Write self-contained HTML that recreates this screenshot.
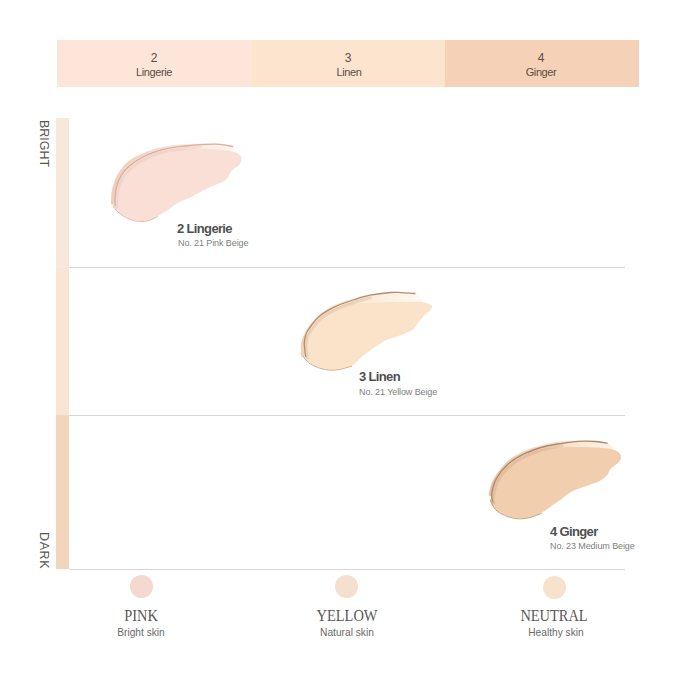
<!DOCTYPE html>
<html>
<head>
<meta charset="utf-8">
<style>
html,body{margin:0;padding:0;background:#fff;}
body{width:679px;height:679px;position:relative;overflow:hidden;font-family:"Liberation Sans",sans-serif;}
.a{position:absolute;}
.seg{position:absolute;top:40px;height:47px;}
.t{position:absolute;white-space:nowrap;line-height:1;}
.num{font-size:12px;color:#5e4d45;text-align:center;width:100px;}
.nm{font-size:11px;color:#5e4d45;text-align:center;width:100px;letter-spacing:-0.4px;}
.lab{font-size:13px;font-weight:bold;color:#505050;letter-spacing:-0.65px;}
.sub{font-size:9px;color:#808080;letter-spacing:-0.1px;}
.hl{position:absolute;left:69px;width:556px;height:1px;background:#d6d6d6;}
.vt{position:absolute;font-size:12.5px;color:#555;transform-origin:0 0;transform:rotate(90deg);line-height:1;white-space:nowrap;}
.circ{position:absolute;width:23px;height:23px;border-radius:50%;}
.big{font-family:"Liberation Serif",serif;font-size:16px;color:#585858;text-align:center;width:120px;transform:scaleX(0.9);}
.sk{font-size:10.2px;color:#6a6a6a;text-align:center;width:120px;letter-spacing:0px;}
</style>
</head>
<body>
<!-- top bar -->
<div class="seg" style="left:57px;width:195px;background:#fde5da;"></div>
<div class="seg" style="left:252px;width:193px;background:#fde4cf;"></div>
<div class="seg" style="left:445px;width:194px;background:#f5d1b8;"></div>
<div class="t num" style="left:104px;top:52px;">2</div>
<div class="t nm" style="left:104px;top:67px;">Lingerie</div>
<div class="t num" style="left:298px;top:52px;">3</div>
<div class="t nm" style="left:299px;top:67px;">Linen</div>
<div class="t num" style="left:491px;top:52px;">4</div>
<div class="t nm" style="left:491px;top:67px;">Ginger</div>

<!-- left vertical bar -->
<div class="a" style="left:56px;top:118px;width:13px;height:150px;background:#f8e8da;"></div>
<div class="a" style="left:56px;top:268px;width:13px;height:147px;background:#f8e5d3;"></div>
<div class="a" style="left:56px;top:415px;width:13px;height:154px;background:#f2d6bb;"></div>
<div class="vt" style="left:50px;top:120px;">BRIGHT</div>
<div class="vt" style="left:50px;top:532px;letter-spacing:0.6px;">DARK</div>

<!-- horizontal lines -->
<div class="hl" style="top:267px;"></div>
<div class="hl" style="top:415px;"></div>
<div class="hl" style="top:569px;"></div>

<!-- swatches -->
<svg class="a" style="left:0;top:0" width="679" height="679" viewBox="0 0 679 679">
<defs><linearGradient id="bg0" gradientUnits="userSpaceOnUse" x1="111.1" y1="0" x2="233.5" y2="0"><stop offset="0" stop-color="#efcdbf"/><stop offset="0.5" stop-color="#f7e1d8"/><stop offset="1" stop-color="#fdf4f0"/></linearGradient></defs>
<path d="M111.1,204.0 C110.5,203.3 110.9,202.4 111.1,200.0 C111.2,197.6 111.3,192.9 112.0,189.5 C112.7,186.1 113.7,183.1 115.1,179.8 C116.5,176.6 118.2,173.1 120.4,170.0 C122.6,166.9 125.2,163.7 128.3,161.2 C131.4,158.7 134.9,156.9 138.9,155.0 C142.9,153.1 147.3,151.2 152.2,149.7 C157.0,148.2 162.5,146.9 168.0,146.0 C173.5,145.1 179.7,144.7 185.0,144.3 C190.3,143.9 195.1,143.8 200.0,143.6 C204.9,143.4 210.7,143.3 214.7,143.4 C218.7,143.5 220.9,143.5 224.0,144.0 C227.1,144.5 232.5,145.0 233.5,146.2 C234.5,147.4 232.9,150.5 229.8,151.0 C226.7,151.5 220.0,149.6 215.0,149.2 C210.0,148.8 205.0,148.6 200.0,148.5 C195.0,148.4 190.3,148.3 185.0,148.5 C179.7,148.7 172.8,148.8 168.0,149.5 C163.2,150.2 160.0,151.2 156.0,152.5 C152.0,153.8 148.2,155.2 144.0,157.5 C139.8,159.8 134.7,163.0 131.0,166.0 C127.3,169.0 124.3,172.2 122.0,175.5 C119.7,178.8 118.4,182.8 117.3,186.0 C116.2,189.2 116.0,192.0 115.5,195.0 C115.0,198.0 115.2,202.5 114.5,204.0 C113.8,205.5 111.7,204.7 111.1,204.0 Z" fill="url(#bg0)"/>
<path d="M114.5,204.0 C115.0,202.3 115.0,198.0 115.5,195.0 C116.0,192.0 116.2,189.2 117.3,186.0 C118.4,182.8 119.7,178.8 122.0,175.5 C124.3,172.2 127.3,169.0 131.0,166.0 C134.7,163.0 139.8,159.8 144.0,157.5 C148.2,155.2 152.0,153.8 156.0,152.5 C160.0,151.2 163.2,150.2 168.0,149.5 C172.8,148.8 179.7,148.7 185.0,148.5 C190.3,148.3 195.0,148.4 200.0,148.5 C205.0,148.6 210.0,148.8 215.0,149.2 C220.0,149.6 226.0,150.3 229.8,151.0 C233.6,151.7 236.1,152.4 238.0,153.5 C239.9,154.6 240.8,156.2 241.3,157.5 C241.8,158.8 241.5,160.1 241.0,161.5 C240.5,162.9 239.7,164.5 238.2,165.9 C236.7,167.3 233.8,168.4 232.2,169.9 C230.6,171.4 230.1,173.4 228.9,175.2 C227.7,177.0 226.8,179.1 225.0,180.5 C223.2,181.9 220.7,182.7 218.3,183.8 C215.9,184.9 213.5,185.7 210.4,187.1 C207.3,188.5 203.5,190.5 199.8,192.4 C196.1,194.3 191.6,196.8 188.0,198.5 C184.4,200.2 181.4,200.9 178.0,202.8 C174.6,204.7 171.2,207.9 167.8,210.1 C164.4,212.3 160.9,214.5 157.5,216.2 C154.1,217.9 150.6,219.7 147.2,220.4 C143.8,221.1 140.3,221.1 136.9,220.6 C133.5,220.1 129.9,218.9 126.6,217.3 C123.3,215.7 119.6,213.2 117.3,211.1 C115.0,209.0 113.1,206.1 112.6,204.9 C112.1,203.7 114.0,205.7 114.5,204.0 Z" fill="#f9dfd5"/>
<path d="M113.0,206.0 C113.7,206.9 115.0,209.5 117.3,211.5 C119.6,213.5 123.3,216.2 126.6,217.8 C129.9,219.4 133.5,220.6 136.9,221.1 C140.3,221.6 143.8,221.6 147.2,220.9 C150.6,220.2 155.8,217.4 157.5,216.7" fill="none" stroke="#e0b9ab" stroke-width="1"/>
<path d="M115.0,206.0 C115.0,204.2 114.9,198.3 115.2,195.0 C115.5,191.7 115.8,189.3 116.8,186.0 C117.8,182.7 119.1,178.7 121.3,175.3 C123.5,171.9 126.4,168.7 130.1,165.6 C133.8,162.5 139.2,159.1 143.3,156.8 C147.5,154.5 150.9,153.2 155.0,151.8 C159.1,150.4 163.0,149.3 168.0,148.3 C173.0,147.3 179.7,146.6 185.0,146.0 C190.3,145.4 197.5,144.8 200.0,144.6" transform="translate(1.6,2.2)" fill="none" stroke="#d9b0a2" stroke-opacity="0.22" stroke-width="3"/>
<path d="M115.0,206.0 C115.0,204.2 114.9,198.3 115.2,195.0 C115.5,191.7 115.8,189.3 116.8,186.0 C117.8,182.7 119.1,178.7 121.3,175.3 C123.5,171.9 126.4,168.7 130.1,165.6 C133.8,162.5 139.2,159.1 143.3,156.8 C147.5,154.5 150.9,153.2 155.0,151.8 C159.1,150.4 163.0,149.3 168.0,148.3 C173.0,147.3 179.7,146.6 185.0,146.0 C190.3,145.4 195.1,144.9 200.0,144.6 C204.9,144.3 210.7,144.2 214.7,144.2 C218.7,144.2 220.9,144.4 224.0,144.8 C227.1,145.2 231.5,146.4 233.0,146.7" fill="none" stroke="#d9b0a2" stroke-width="1.3"/>
<defs><linearGradient id="bg1" gradientUnits="userSpaceOnUse" x1="301" y1="0" x2="415.4" y2="0"><stop offset="0" stop-color="#efd3b6"/><stop offset="0.5" stop-color="#fae8d4"/><stop offset="1" stop-color="#fef7ee"/></linearGradient></defs>
<path d="M301.0,356.0 C300.4,355.2 301.0,353.3 301.0,351.2 C301.0,349.1 300.4,346.2 301.0,343.3 C301.6,340.4 302.7,337.3 304.3,334.0 C305.9,330.7 308.0,326.9 310.9,323.4 C313.8,319.9 317.5,315.9 321.5,312.8 C325.5,309.7 329.2,307.3 334.7,304.9 C340.2,302.5 348.7,299.9 354.6,298.2 C360.5,296.5 364.0,295.5 370.0,294.5 C376.0,293.5 385.5,292.4 390.6,292.0 C395.8,291.6 396.8,292.0 400.9,292.2 C405.0,292.4 412.0,291.6 415.4,293.2 C418.8,294.8 422.4,300.6 421.5,302.0 C420.6,303.4 415.2,301.8 410.0,301.8 C404.8,301.8 396.7,301.9 390.0,302.0 C383.3,302.1 376.7,302.4 370.0,302.5 C363.3,302.6 355.8,301.7 350.0,302.5 C344.2,303.3 340.6,305.2 335.5,307.5 C330.4,309.8 323.9,312.4 319.5,316.0 C315.1,319.6 311.3,325.7 309.0,329.0 C306.7,332.3 306.3,333.6 305.5,336.0 C304.7,338.4 304.2,340.0 304.0,343.3 C303.8,346.6 305.0,353.9 304.5,356.0 C304.0,358.1 301.6,356.8 301.0,356.0 Z" fill="url(#bg1)"/>
<path d="M304.5,356.0 C304.4,353.6 303.8,346.6 304.0,343.3 C304.2,340.0 304.7,338.4 305.5,336.0 C306.3,333.6 306.7,332.3 309.0,329.0 C311.3,325.7 315.1,319.6 319.5,316.0 C323.9,312.4 330.4,309.8 335.5,307.5 C340.6,305.2 344.2,303.3 350.0,302.5 C355.8,301.7 363.3,302.6 370.0,302.5 C376.7,302.4 383.3,302.1 390.0,302.0 C396.7,301.9 404.8,301.8 410.0,301.8 C415.2,301.8 418.5,301.7 421.5,302.0 C424.5,302.3 426.3,302.8 428.0,303.5 C429.7,304.2 431.4,305.0 431.9,306.0 C432.4,307.0 431.8,308.4 430.8,309.7 C429.8,311.0 427.5,312.1 425.7,313.9 C423.9,315.7 421.4,318.9 420.0,320.6 C418.6,322.3 418.6,322.6 417.4,324.1 C416.2,325.6 414.9,327.9 413.0,329.4 C411.1,330.9 408.5,331.8 405.9,333.0 C403.2,334.2 400.3,335.3 397.1,336.5 C393.9,337.7 389.7,338.5 386.5,340.0 C383.3,341.5 380.6,343.4 377.7,345.3 C374.8,347.2 371.6,349.5 368.8,351.5 C366.0,353.5 363.8,355.2 361.0,357.5 C358.2,359.8 355.7,363.6 352.0,365.5 C348.3,367.4 343.1,368.5 338.7,369.1 C334.3,369.7 329.9,369.9 325.5,369.1 C321.1,368.3 315.7,366.4 312.2,364.5 C308.7,362.6 305.6,359.2 304.3,357.8 C303.0,356.4 304.6,358.4 304.5,356.0 Z" fill="#fbe3c9"/>
<path d="M303.0,356.0 C303.5,356.7 304.5,358.5 306.0,360.0 C307.5,361.5 308.9,363.4 312.2,365.0 C315.4,366.6 321.1,368.8 325.5,369.6 C329.9,370.4 334.3,370.2 338.7,369.6 C343.1,369.0 349.8,366.6 352.0,366.0" fill="none" stroke="#cfae90" stroke-width="1"/>
<path d="M305.6,357.0 C305.5,355.8 305.0,352.3 304.8,350.0 C304.6,347.7 304.2,345.6 304.3,343.3 C304.4,341.0 304.9,338.2 305.5,336.0 C306.1,333.8 306.0,333.2 308.2,330.0 C310.4,326.8 314.4,320.7 318.8,316.8 C323.2,312.9 328.7,309.8 334.7,306.9 C340.7,304.0 348.7,301.4 354.6,299.5 C360.5,297.6 367.4,295.9 370.0,295.2" transform="translate(1.6,2.2)" fill="none" stroke="#b08e70" stroke-opacity="0.22" stroke-width="3"/>
<path d="M305.6,357.0 C305.5,355.8 305.0,352.3 304.8,350.0 C304.6,347.7 304.2,345.6 304.3,343.3 C304.4,341.0 304.9,338.2 305.5,336.0 C306.1,333.8 306.0,333.2 308.2,330.0 C310.4,326.8 314.4,320.7 318.8,316.8 C323.2,312.9 328.7,309.8 334.7,306.9 C340.7,304.0 348.7,301.4 354.6,299.5 C360.5,297.6 364.0,296.4 370.0,295.2 C376.0,294.0 385.5,292.9 390.6,292.5 C395.8,292.1 396.8,292.4 400.9,292.6 C405.0,292.8 413.0,293.4 415.4,293.5" fill="none" stroke="#b08e70" stroke-width="1.3"/>
<defs><linearGradient id="bg2" gradientUnits="userSpaceOnUse" x1="489.3" y1="0" x2="607.6" y2="0"><stop offset="0" stop-color="#e5bf9e"/><stop offset="0.5" stop-color="#f4dcc4"/><stop offset="1" stop-color="#fcf1e6"/></linearGradient></defs>
<path d="M489.5,496.0 C489.1,495.3 488.8,494.1 489.3,491.6 C489.8,489.1 490.7,484.8 492.6,481.0 C494.5,477.2 497.4,472.9 500.5,469.1 C503.6,465.4 506.9,461.6 511.1,458.5 C515.3,455.4 520.6,452.7 525.7,450.5 C530.8,448.3 535.6,446.7 541.6,445.2 C547.6,443.7 555.9,442.0 562.0,441.3 C568.1,440.6 572.9,440.9 578.5,440.8 C584.1,440.8 590.9,440.6 595.7,441.0 C600.6,441.4 605.0,441.6 607.6,443.0 C610.2,444.4 614.2,448.5 611.6,449.2 C609.0,449.9 600.0,447.5 591.7,447.2 C583.4,446.9 569.8,447.1 562.0,447.2 C554.2,447.3 551.0,446.9 545.0,448.0 C539.0,449.1 532.0,451.2 526.0,454.0 C520.0,456.8 513.8,460.4 509.0,464.5 C504.2,468.6 499.8,473.7 497.0,478.4 C494.2,483.1 493.0,490.0 492.2,492.9 C491.4,495.8 492.4,495.5 492.0,496.0 C491.6,496.5 489.9,496.7 489.5,496.0 Z" fill="url(#bg2)"/>
<path d="M492.0,496.0 C492.4,494.7 491.4,495.8 492.2,492.9 C493.0,490.0 494.2,483.1 497.0,478.4 C499.8,473.7 504.2,468.6 509.0,464.5 C513.8,460.4 520.0,456.8 526.0,454.0 C532.0,451.2 539.0,449.1 545.0,448.0 C551.0,446.9 554.2,447.3 562.0,447.2 C569.8,447.1 583.4,446.9 591.7,447.2 C600.0,447.5 607.0,448.2 611.6,449.2 C616.2,450.2 618.0,451.6 619.5,453.2 C621.0,454.8 621.3,456.7 620.9,458.5 C620.5,460.3 618.7,462.0 616.9,463.8 C615.1,465.6 611.8,467.3 610.3,469.1 C608.8,470.9 609.4,472.4 607.6,474.4 C605.8,476.4 602.8,479.2 599.7,481.0 C596.6,482.8 593.7,483.2 589.1,485.0 C584.5,486.8 576.6,489.2 571.9,491.6 C567.2,494.0 564.3,497.2 561.0,499.5 C557.7,501.8 555.2,503.3 552.0,505.5 C548.8,507.7 545.5,510.8 541.6,512.8 C537.7,514.8 532.6,516.5 528.4,517.4 C524.2,518.3 520.4,518.5 516.4,518.1 C512.4,517.7 508.0,516.3 504.5,514.8 C501.0,513.2 497.6,511.1 495.2,508.8 C492.8,506.5 490.5,503.0 490.0,500.9 C489.5,498.8 491.6,497.3 492.0,496.0 Z" fill="#f1cfae"/>
<path d="M490.5,500.0 C491.3,501.6 492.9,506.8 495.2,509.3 C497.5,511.9 501.0,513.8 504.5,515.3 C508.0,516.8 512.4,518.2 516.4,518.6 C520.4,519.0 524.2,518.8 528.4,517.9 C532.6,517.0 539.4,514.1 541.6,513.3" fill="none" stroke="#c99e7e" stroke-width="1"/>
<path d="M492.6,502.2 C492.5,500.6 491.2,496.9 491.9,492.9 C492.6,488.9 493.8,483.2 496.6,478.4 C499.4,473.5 503.6,468.0 508.5,463.8 C513.4,459.6 519.6,456.1 525.7,453.2 C531.8,450.3 539.0,448.1 545.0,446.5 C551.0,444.9 559.2,443.8 562.0,443.3" transform="translate(1.6,2.2)" fill="none" stroke="#b0876a" stroke-opacity="0.22" stroke-width="3"/>
<path d="M492.6,502.2 C492.5,500.6 491.2,496.9 491.9,492.9 C492.6,488.9 493.8,483.2 496.6,478.4 C499.4,473.5 503.6,468.0 508.5,463.8 C513.4,459.6 519.6,456.1 525.7,453.2 C531.8,450.3 539.0,448.1 545.0,446.5 C551.0,444.9 556.4,444.2 562.0,443.3 C567.6,442.4 572.9,441.6 578.5,441.3 C584.1,441.0 590.9,441.2 595.7,441.5 C600.6,441.8 605.6,443.0 607.6,443.3" fill="none" stroke="#b0876a" stroke-width="1.3"/>
</svg>

<!-- swatch labels -->
<div class="t lab" style="left:177px;top:222px;">2 Lingerie</div>
<div class="t sub" style="left:178px;top:239px;">No. 21 Pink Beige</div>
<div class="t lab" style="left:359px;top:370px;">3 Linen</div>
<div class="t sub" style="left:359px;top:388px;">No. 21 Yellow Beige</div>
<div class="t lab" style="left:550px;top:525px;">4 Ginger</div>
<div class="t sub" style="left:550px;top:542px;">No. 23 Medium Beige</div>

<!-- bottom circles -->
<div class="circ" style="left:130px;top:575px;background:#f3d9cf;"></div>
<div class="circ" style="left:335px;top:575px;background:#f5dfcf;"></div>
<div class="circ" style="left:543px;top:576px;background:#f7e3cd;"></div>
<div class="t big" style="left:81px;top:608px;">PINK</div>
<div class="t sk" style="left:81px;top:628px;">Bright skin</div>
<div class="t big" style="left:287px;top:608px;">YELLOW</div>
<div class="t sk" style="left:287px;top:628px;">Natural skin</div>
<div class="t big" style="left:494px;top:608px;">NEUTRAL</div>
<div class="t sk" style="left:496px;top:628px;">Healthy skin</div>
</body>
</html>
